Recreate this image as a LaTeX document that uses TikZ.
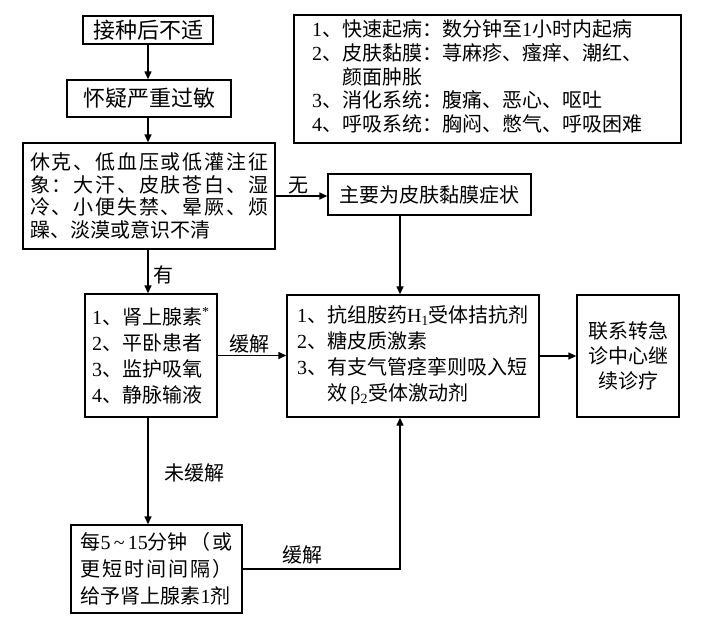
\documentclass[tikz,border=0pt]{standalone}
\usepackage{fontspec}
\setmainfont{Liberation Serif}
\newfontfamily\cjk{Noto Sans CJK SC}
\usetikzlibrary{arrows.meta}
\newcommand\nr[1]{{\rmfamily #1}}
\makeatletter
\def\spr@x#1{\ifx#1\relax\else\hfill#1\expandafter\spr@x\fi}
\def\spr@first#1{#1\spr@x}
\newcommand\spreadto[2]{\makebox[#1][l]{\spr@first#2\relax}}
\makeatother
\begin{document}
\begin{tikzpicture}[x=1pt,y=-1pt,
  box/.style={draw, line width=1.4pt, inner ysep=0pt},
  f20/.style={font=\cjk\fontsize{20}{26}\selectfont},
  arr/.style={line width=1.4pt, -{Triangle[length=8pt,width=7pt]}},
  lab/.style={font=\cjk\fontsize{20}{24}\selectfont, inner sep=0pt}]
\useasboundingbox (0,0) rectangle (701,625);
\coordinate (vl) at (148,0);
\coordinate (vx) at (400,0);

\node[box, font=\cjk\fontsize{22}{26}\selectfont, minimum width=130pt, minimum height=28pt, inner xsep=0pt] (b1) at (148,30) {接种后不适};
\node[box, font=\cjk\fontsize{22}{26}\selectfont, minimum width=164pt, minimum height=37pt, inner xsep=0pt] (b2) at (149,98.5) {怀疑严重过敏};

\node[box, font=\cjk\fontsize{20}{22.5}\selectfont, text width=238pt, inner xsep=7pt, minimum height=106pt, align=left] (b3) at (149,196)
  {\spreadto{238pt}{休克、低血压或低灌注征}\\
   \spreadto{238pt}{象：大汗、皮肤苍白、湿}\\
   \spreadto{238pt}{冷、小便失禁、晕厥、烦}\\
   躁、淡漠或意识不清};

\node[box, font=\cjk\fontsize{20}{22.5}\selectfont, text width=351pt, inner xsep=18pt, minimum height=128pt, align=left] (sym) at (487.5,79)
  {\begin{tabular}{@{}l@{}l@{}}
   \nr{1}、&快速起病：数分钟至\nr{1}小时内起病\\
   \nr{2}、&皮肤黏膜：荨麻疹、瘙痒、潮红、\\
   &颜面肿胀\\
   \nr{3}、&消化系统：腹痛、恶心、呕吐\\
   \nr{4}、&呼吸系统：胸闷、憋气、呼吸困难
   \end{tabular}};

\node[box, f20, minimum width=203pt, minimum height=41pt, inner xsep=0pt] (mu) at (429.5,194.5) {主要为皮肤黏膜症状};

\node[box, f20, text width=118pt, inner xsep=7pt, minimum height=123pt, align=left] (b4) at (151,355.5)
  {\nr{1}、肾上腺素\textsuperscript{\nr{*}}\\
   \nr{2}、平卧患者\\
   \nr{3}、监护吸氧\\
   \nr{4}、静脉输液};

\node[box, f20, text width=232pt, inner xsep=10pt, minimum height=122pt, align=left] (treat) at (413,356)
  {\begin{tabular}{@{}l@{}l@{}}
   \nr{1}、&抗组胺药\nr{H\textsubscript{1}}受体拮抗剂\\
   \nr{2}、&糖皮质激素\\
   \nr{3}、&有支气管痉挛则吸入短\\
   &效\nr{\,β\textsubscript{2}}受体激动剂
   \end{tabular}};

\node[box, font=\cjk\fontsize{20}{25}\selectfont, minimum width=102pt, minimum height=122pt, inner xsep=0pt, align=center] (fin) at (628,356)
  {联系转急\\诊中心继\\续诊疗};

\node[box, font=\cjk\fontsize{20}{27}\selectfont, text width=152pt, inner xsep=9.5pt, minimum height=88pt, align=left] (b5) at (156.5,569)
  {\makebox[152pt][s]{每\nr{5\,\textasciitilde\,15}分钟\hfill（\hfill 或}\\
   \spreadto{152pt}{更短时间间隔）}\\
   给予肾上腺素\nr{1}剂};

\draw[arr] (b1.south -| vl) -- (b2.north -| vl);
\draw[arr] (b2.south -| vl) -- (b3.north -| vl);
\draw[arr] (b3.east) -- (b3.east -| mu.west);
\draw[arr] (b3.south -| vl) -- (b4.north -| vl);
\draw[arr] (mu.south -| vx) -- (treat.north -| vx);
\draw[arr] (b4.east) -- (b4.east -| treat.west);
\draw[arr] (treat.east) -- (treat.east -| fin.west);
\draw[arr] (b4.south -| vl) -- (b5.north -| vl);
\draw[arr] (b5.east) -- (b5.east -| vx) -- (treat.south -| vx);

\node[lab] (lwu) at (298,186) {无};
\node[lab] (lyou) at (163,275) {有};
\node[lab] (lhj1) at (249,344) {缓解};
\node[lab] (lwhj) at (194,473) {未缓解};
\node[lab] (lhj2) at (302,555) {缓解};
\end{tikzpicture}
\end{document}
